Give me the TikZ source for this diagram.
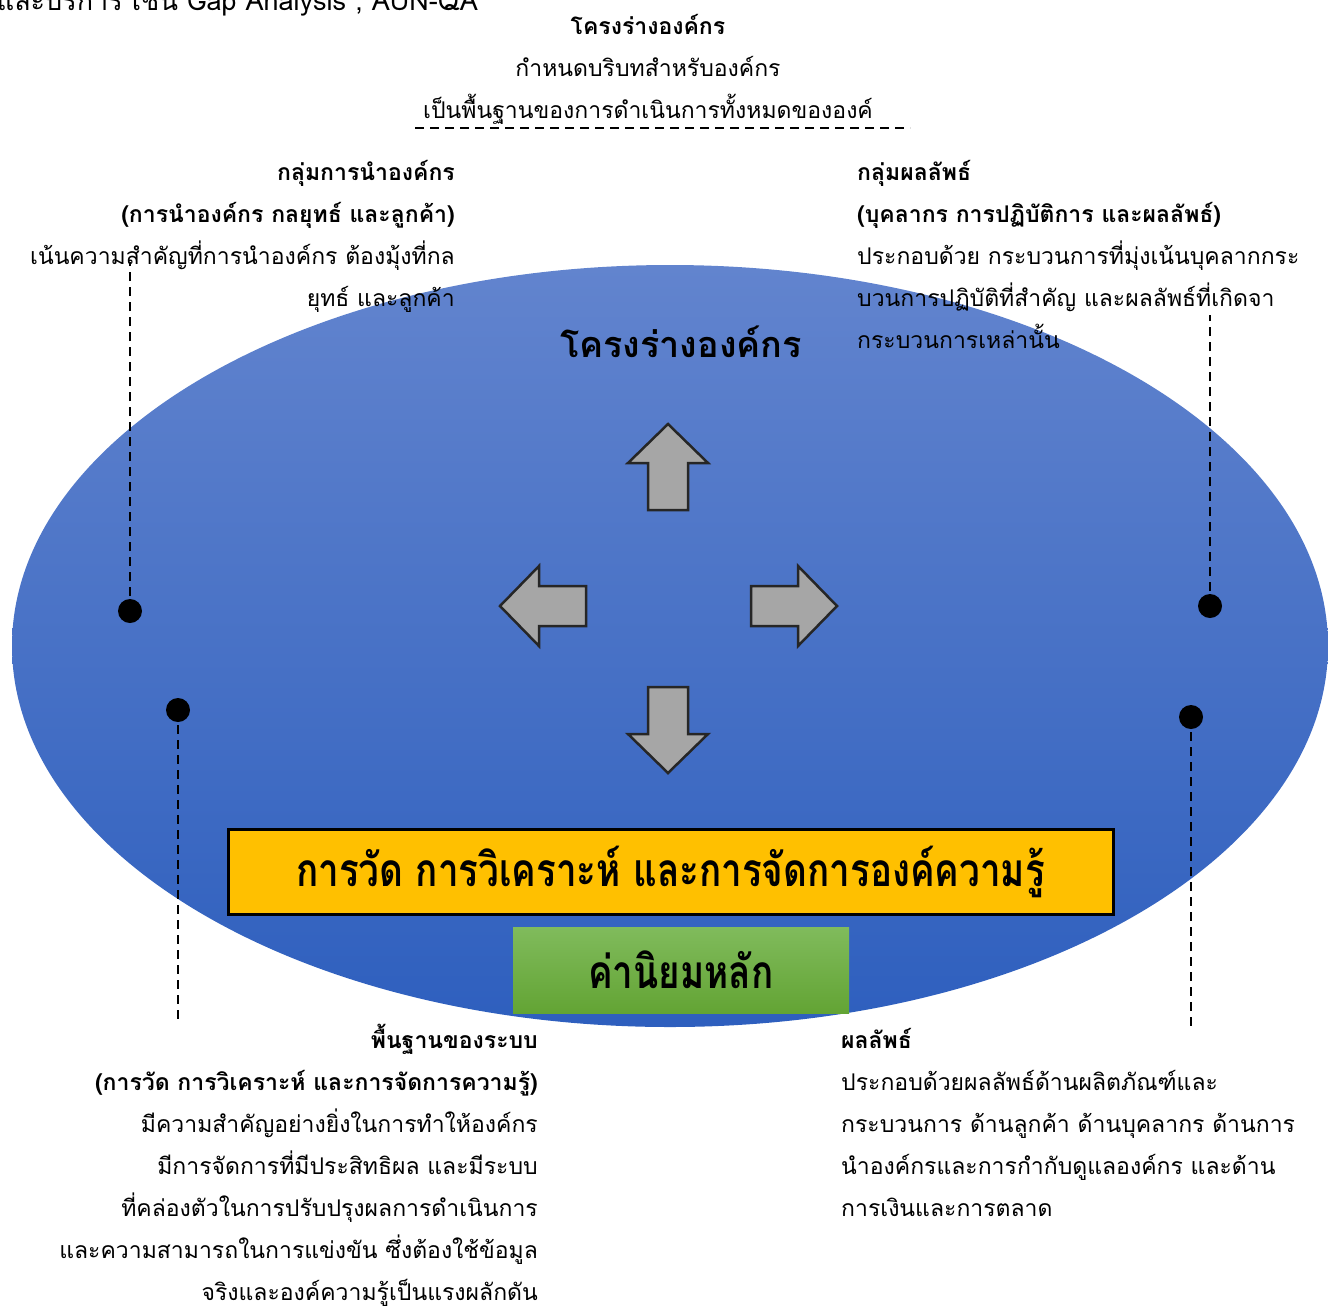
\documentclass[tikz,border=0pt]{standalone}
\usepackage{fontspec}
\newfontfamily\thaifont[Script=Thai]{Loma}
\newfontfamily\thaicond[Script=Thai,FakeStretch=0.8]{Loma}
\usetikzlibrary{positioning}
\definecolor{ovaltop}{RGB}{98,132,206}
\definecolor{ovalbot}{RGB}{46,95,190}
\definecolor{gold}{RGB}{255,192,0}
\definecolor{leaftop}{RGB}{128,187,92}
\definecolor{leafbot}{RGB}{99,164,52}
\definecolor{arrowgrey}{RGB}{166,166,166}
\tikzset{dot node/.style={circle,fill=black,minimum size=24pt,inner sep=0pt}}
\tikzset{leader/.style={line width=1.8pt,dash pattern=on 9pt off 6pt}}
\tikzset{body text/.style={font=\thaifont\fontsize{23}{42}\selectfont,inner sep=0pt}}
\tikzset{block arrow/.style={fill=arrowgrey,draw=black!85,line width=2.5pt,line join=miter}}

\begin{document}
\begin{tikzpicture}[x=1pt,y=-1pt]
\useasboundingbox (0,0) rectangle (1328,1310);

% the oval
\shade[top color=ovaltop,bottom color=ovalbot] (670,646) ellipse [x radius=658,y radius=381];

% text cut at the top edge
\node[font=\thaifont\fontsize{27}{32}\selectfont,inner sep=0pt,anchor=base east] (cuttext) at (478,10) {และบริการ เช่น Gap Analysis ,  AUN-QA};

% title above the oval
\node[body text,anchor=base,align=center] (profile) at (648,118)
  {\textbf{โครงร่างองค์กร}\\กำหนดบริบทสำหรับองค์กร\\เป็นพื้นฐานของการดำเนินการทั้งหมดขององค์};
\coordinate (rulestart) at (415,128);
\coordinate (ruleend) at (910,128);
\draw[leader] (rulestart) -- (ruleend);

% side texts
\node[body text,anchor=base east,align=right] (leadgroup) at (455,306)
  {\textbf{กลุ่มการนำองค์กร}\\\textbf{(การนำองค์กร กลยุทธ์ และลูกค้า)}\\เน้นความสำคัญที่การนำองค์กร ต้องมุ้งที่กล\\ยุทธ์ และลูกค้า};
\node[body text,anchor=base west,align=left] (resultgroup) at (857,348)
  {\textbf{กลุ่มผลลัพธ์}\\\textbf{(บุคลากร การปฏิบัติการ และผลลัพธ์)}\\ประกอบด้วย กระบวนการที่มุ่งเน้นบุคลากกระ\\บวนการปฏิบัติที่สำคัญ และผลลัพธ์ที่เกิดจา\\กระบวนการเหล่านั้น};
\node[body text,anchor=base east,align=right] (sysbase) at (538,1300)
  {\textbf{พื้นฐานของระบบ}\\\textbf{(การวัด การวิเคราะห์ และการจัดการความรู้)}\\มีความสำคัญอย่างยิ่งในการทำให้องค์กร\\มีการจัดการที่มีประสิทธิผล และมีระบบ\\ที่คล่องตัวในการปรับปรุงผลการดำเนินการ\\และความสามารถในการแข่งขัน ซึ่งต้องใช้ข้อมูล\\จริงและองค์ความรู้เป็นแรงผลักดัน};
\node[body text,anchor=base west,align=left] (results) at (841,1216)
  {\textbf{ผลลัพธ์}\\ประกอบด้วยผลลัพธ์ด้านผลิตภัณฑ์และ\\กระบวนการ ด้านลูกค้า ด้านบุคลากร ด้านการ\\นำองค์กรและการกำกับดูแลองค์กร และด้าน\\การเงินและการตลาด};

% heading in the oval
\node[font=\thaifont\bfseries\fontsize{36}{42}\selectfont] (ovalhead) at (681,342) {โครงร่างองค์กร};

% four arrows
\foreach \ang/\cx/\cy in {90/668/467,180/543/606,0/794/606,270/668/730}{
  \draw[block arrow,shift={(\cx,\cy)},rotate=\ang]
    (-43,-20) -- (4,-20) -- (4,-40) -- (43,0) -- (4,40) -- (4,20) -- (-43,20) -- cycle;
}

% boxes
\node[draw=black,line width=3pt,fill=gold,minimum width=885,minimum height=85,
  font=\thaicond\bfseries\fontsize{46}{52}\selectfont] (kmbox) at (670.5,871.5)
  {การวัด การวิเคราะห์ และการจัดการองค์ความรู้};
\node[top color=leaftop,bottom color=leafbot,minimum width=336,minimum height=86,
  font=\thaicond\bfseries\fontsize{46}{52}\selectfont] (corevalues) at (681,970)
  {ค่านิยมหลัก};

% dots and leader lines
\node[dot node] (leftdot) at (130,611) {};
\node[dot node] (rightdot) at (1210,606) {};
\node[dot node] (lowleftdot) at (178,710) {};
\node[dot node] (lowrightdot) at (1191,717) {};
\coordinate (leftend) at (130,262);
\coordinate (rightend) at (1210,315);
\coordinate (lowleftend) at (178,1022);
\coordinate (lowrightend) at (1191,1030);
\draw[leader] (leftdot.center) -- (leftend);
\draw[leader] (rightdot.center) -- (rightend);
\draw[leader] (lowleftdot.center) -- (lowleftend);
\draw[leader] (lowrightdot.center) -- (lowrightend);
\end{tikzpicture}
\end{document}
